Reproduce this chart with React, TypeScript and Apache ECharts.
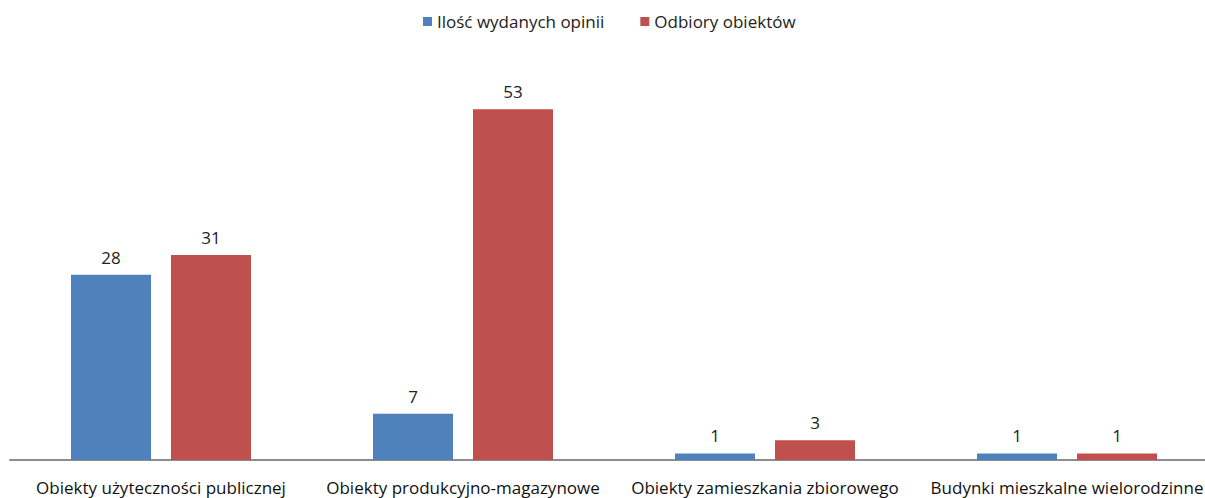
import React, { useEffect, useRef } from "react";
import * as echarts from "echarts";

const categories = [
  "Obiekty użyteczności publicznej",
  "Obiekty produkcyjno-magazynowe",
  "Obiekty zamieszkania zbiorowego",
  "Budynki mieszkalne wielorodzinne",
];
const seriesNames = ["Ilość wydanych opinii", "Odbiory obiektów"];
const opinie = [28, 7, 1, 1];
const odbiory = [31, 53, 3, 1];

export default function App() {
  const ref = useRef<HTMLDivElement>(null);
  useEffect(() => {
    if (!ref.current) return;
    const chart = echarts.init(ref.current, null, { renderer: "svg" });
    const font = "Open Sans";
    chart.setOption({
      animation: false,
      textStyle: { fontFamily: font },
      legend: {
        top: 8,
        left: 418,
        itemWidth: 9,
        itemHeight: 9,
        itemGap: 36,
        icon: "rect",
        textStyle: { fontFamily: font, fontSize: 17, color: "#222" },
        data: seriesNames,
      },
      grid: { left: 10, right: 0, top: 63, bottom: 38, containLabel: false },
      xAxis: {
        type: "category",
        data: categories,
        axisLine: { lineStyle: { color: "#8c8c8c", width: 2 } },
        axisTick: { show: false },
        axisLabel: { fontFamily: font, fontSize: 17, color: "#111", margin: 19, interval: 0 },
      },
      yAxis: {
        type: "value",
        min: 0,
        max: 60,
        show: false,
        splitLine: { show: false },
      },
      series: [
        {
          name: seriesNames[0],
          type: "bar",
          data: opinie,
          barWidth: 80,
          barGap: "25%",
          itemStyle: { color: "#4F81BD" },
          label: { show: true, position: "top", distance: 9, fontFamily: font, fontSize: 17, color: "#222" },
        },
        {
          name: seriesNames[1],
          type: "bar",
          data: odbiory,
          barWidth: 80,
          barGap: "25%",
          itemStyle: { color: "#C0504D" },
          label: { show: true, position: "top", distance: 9, fontFamily: font, fontSize: 17, color: "#222" },
        },
      ],
    });
    return () => chart.dispose();
  }, []);
  return (
    <div style={{ position: "fixed", left: 0, top: 0, width: 1205, height: 498, overflow: "hidden", background: "#fff" }}>
      <div ref={ref} style={{ width: 1218, height: 498 }} />
    </div>
  );
}
